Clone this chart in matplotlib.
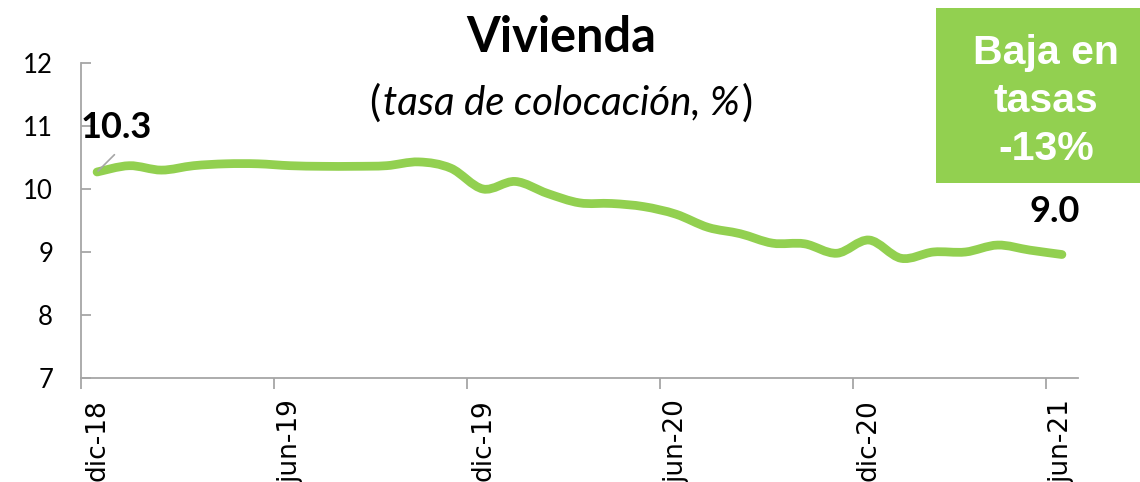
import numpy as np
import matplotlib
matplotlib.use("Agg")
from matplotlib import pyplot as plt
from matplotlib.path import Path
from matplotlib.patches import PathPatch, Rectangle

# monthly rate, dic-18 .. jun-21
months = [
    "dic-18", "ene-19", "feb-19", "mar-19", "abr-19", "may-19", "jun-19",
    "jul-19", "ago-19", "sep-19", "oct-19", "nov-19", "dic-19", "ene-20",
    "feb-20", "mar-20", "abr-20", "may-20", "jun-20", "jul-20", "ago-20",
    "sep-20", "oct-20", "nov-20", "dic-20", "ene-21", "feb-21", "mar-21",
    "abr-21", "may-21", "jun-21",
]
tasa = [
    10.27, 10.37, 10.30, 10.37, 10.40, 10.40, 10.37, 10.36, 10.36, 10.37,
    10.43, 10.33, 10.00, 10.12, 9.93, 9.78, 9.77, 9.72, 9.60, 9.39,
    9.29, 9.14, 9.13, 8.98, 9.19, 8.90, 9.00, 9.00, 9.11, 9.03, 8.96,
]
first_label = "10.3"
last_label = "9.0"
box_text = "Baja en\ntasas\n-13%"

GREEN = "#92D050"
GRAY = "#A6A6A6"


def smooth_path(x, y):
    # Catmull-Rom style bezier, like Excel's smoothed line
    pts = np.column_stack([x, y])
    padded = np.vstack([pts[0], pts, pts[-1]])
    verts = [pts[0]]
    codes = [Path.MOVETO]
    for i in range(len(pts) - 1):
        p0, p1, p2, p3 = padded[i], padded[i + 1], padded[i + 2], padded[i + 3]
        verts += [p1 + (p2 - p0) / 6, p2 - (p3 - p1) / 6, p2]
        codes += [Path.CURVE4] * 3
    return Path(verts, codes)


fig = plt.figure(figsize=(11.4, 4.82), dpi=100)
ax = fig.add_axes([81 / 1140, 1 - 378 / 482, (1078 - 81) / 1140, (378 - 63) / 482])

x = np.arange(len(tasa))
ax.add_patch(PathPatch(smooth_path(x, tasa), fill=False, edgecolor=GREEN,
                       linewidth=6.3, capstyle="round", joinstyle="round"))

ax.set_xlim(-0.5, len(tasa) - 0.5)
ax.set_ylim(7, 12)

for side in ["top", "right"]:
    ax.spines[side].set_visible(False)
for side in ["left", "bottom"]:
    ax.spines[side].set_color(GRAY)
    ax.spines[side].set_linewidth(1.3)

ax.set_yticks(range(7, 13), [str(v) for v in range(7, 13)], fontsize=18.5, family="Lato")
ax.tick_params(axis="y", direction="in", length=7.5, width=1.3, color=GRAY, pad=20)

label_pos = x[::6]
ax.set_xticks(label_pos - 0.5, [""] * len(label_pos))
ax.tick_params(axis="x", which="major", direction="out", length=8, width=1.3, color=GRAY)
ax.set_xticks(label_pos, [months[i] for i in label_pos], minor=True,
              fontsize=19, family="DejaVu Sans", rotation=90, va="top", ha="center")
ax.tick_params(axis="x", which="minor", length=0, pad=15)

# value labels
ax.annotate(first_label, xy=(x[0], tasa[0]), xytext=(14, 32), textcoords="offset points",
            ha="center", va="center", fontsize=26, fontweight="bold", family="Lato",
            arrowprops=dict(arrowstyle="-", color=GRAY, lw=1.2, shrinkA=8, shrinkB=1,
                            relpos=(0.62, 0.0)),
            annotation_clip=False)
ax.annotate(last_label, xy=(x[-1], tasa[-1]), xytext=(-5, 31), textcoords="offset points",
            ha="center", va="center", fontsize=26, fontweight="bold", family="Lato",
            annotation_clip=False)

# titles
fig.text(561 / 1140, 1 - 37 / 482, "Vivienda", ha="center", va="center",
         fontsize=35, fontweight="bold", family="Lato")
sub = fig.text(561 / 1140, 1 - 103 / 482, "tasa de colocación, %", ha="center",
               va="center", fontsize=29, fontstyle="italic", family="Lato")
fig.canvas.draw()
bb = sub.get_window_extent().transformed(fig.transFigure.inverted())
fig.text(bb.x0 - 0.002, 1 - 103 / 482, "(", ha="right", va="center", fontsize=30, family="Lato")
fig.text(bb.x1 + 0.002, 1 - 103 / 482, ")", ha="left", va="center", fontsize=30, family="Lato")

# summary box
fig.patches.append(Rectangle((936 / 1140, 1 - 183 / 482), 1 - 936 / 1140, 175 / 482,
                             transform=fig.transFigure, facecolor=GREEN, edgecolor="none"))
fig.text(1046 / 1140, 1 - 101 / 482, box_text, ha="center", va="center", color="white",
         fontsize=29.5, fontweight="bold", family="Liberation Sans", linespacing=1.32)

fig.savefig("out.png", dpi=100)
